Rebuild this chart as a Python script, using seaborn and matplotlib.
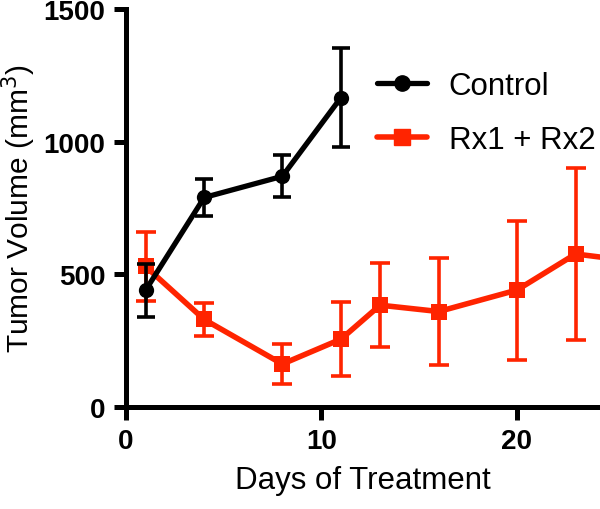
import matplotlib
matplotlib.use("Agg")
import matplotlib.pyplot as plt
import seaborn as sns
import pandas as pd
from matplotlib.lines import Line2D

# data
ctrl_days = [1, 4, 8, 11]
ctrl_mean = [440, 790, 870, 1167]
ctrl_err = [100, 68, 80, 187]

rx_days = [1, 4, 8, 11, 13, 16, 20, 23, 27]
rx_mean = [530, 330, 162, 256, 384, 360, 441, 577, 540]
rx_err = [130, 64, 75, 140, 158, 200, 262, 326, 330]

BLACK = "#000000"
RED = "#FF2400"

sns.set_theme(style="ticks")
plt.rcParams['font.family'] = ['Liberation Sans', 'DejaVu Sans']
plt.rcParams.update({"text.color": BLACK, "axes.labelcolor": BLACK,
                     "xtick.color": BLACK, "ytick.color": BLACK,
                     "axes.edgecolor": BLACK})

df = pd.concat([
    pd.DataFrame({"day": rx_days, "vol": rx_mean, "group": "Rx1 + Rx2"}),
    pd.DataFrame({"day": ctrl_days, "vol": ctrl_mean, "group": "Control"}),
])

fig = plt.figure(figsize=(6, 5.1), dpi=100)
ax = fig.add_axes([0.21, 0.2, 0.79, 0.78])

# red series first so black sits on top
ax.errorbar(rx_days, rx_mean, yerr=rx_err, fmt="none", ecolor=RED,
            elinewidth=2.6, capsize=7, capthick=2.6, zorder=2)
sns.lineplot(data=df[df.group == "Rx1 + Rx2"], x="day", y="vol", ax=ax,
             color=RED, marker="s", markersize=11, markeredgewidth=0,
             linewidth=4, zorder=3, legend=False)
ax.errorbar(ctrl_days, ctrl_mean, yerr=ctrl_err, fmt="none", ecolor=BLACK,
            elinewidth=2.6, capsize=6.5, capthick=2.6, zorder=4)
sns.lineplot(data=df[df.group == "Control"], x="day", y="vol", ax=ax,
             color=BLACK, marker="o", markersize=11, markeredgewidth=0,
             linewidth=3.8, zorder=5, legend=False)

ax.set_xlim(0, 24.25)
ax.set_ylim(0, 1500)
ax.set_xticks([0, 10, 20])
ax.set_yticks([0, 500, 1000, 1500])
ax.set_xlabel("Days of Treatment", fontsize=22.5, labelpad=8)
ax.set_ylabel("Tumor Volume (mm$^3$)", fontsize=21.5, labelpad=4)
for lab in ax.get_xticklabels() + ax.get_yticklabels():
    lab.set_fontweight("bold")
ax.tick_params(axis="both", labelsize=20, width=3.6, length=9, pad=6)

sns.despine(ax=ax)
for s in ["left", "bottom"]:
    ax.spines[s].set_linewidth(3.6)
    ax.spines[s].set_capstyle("projecting")

handles = [
    Line2D([], [], color=BLACK, marker="o", markersize=11, linewidth=3.8),
    Line2D([], [], color=RED, marker="s", markersize=11, linewidth=4),
]
ax.legend(handles, ["Control", "Rx1 + Rx2"], loc="upper left",
          bbox_to_anchor=(0.47, 0.915), frameon=False, fontsize=22.5,
          handlelength=1.6, handletextpad=0.7, labelspacing=0.75)

fig.savefig("out.png", dpi=100)
